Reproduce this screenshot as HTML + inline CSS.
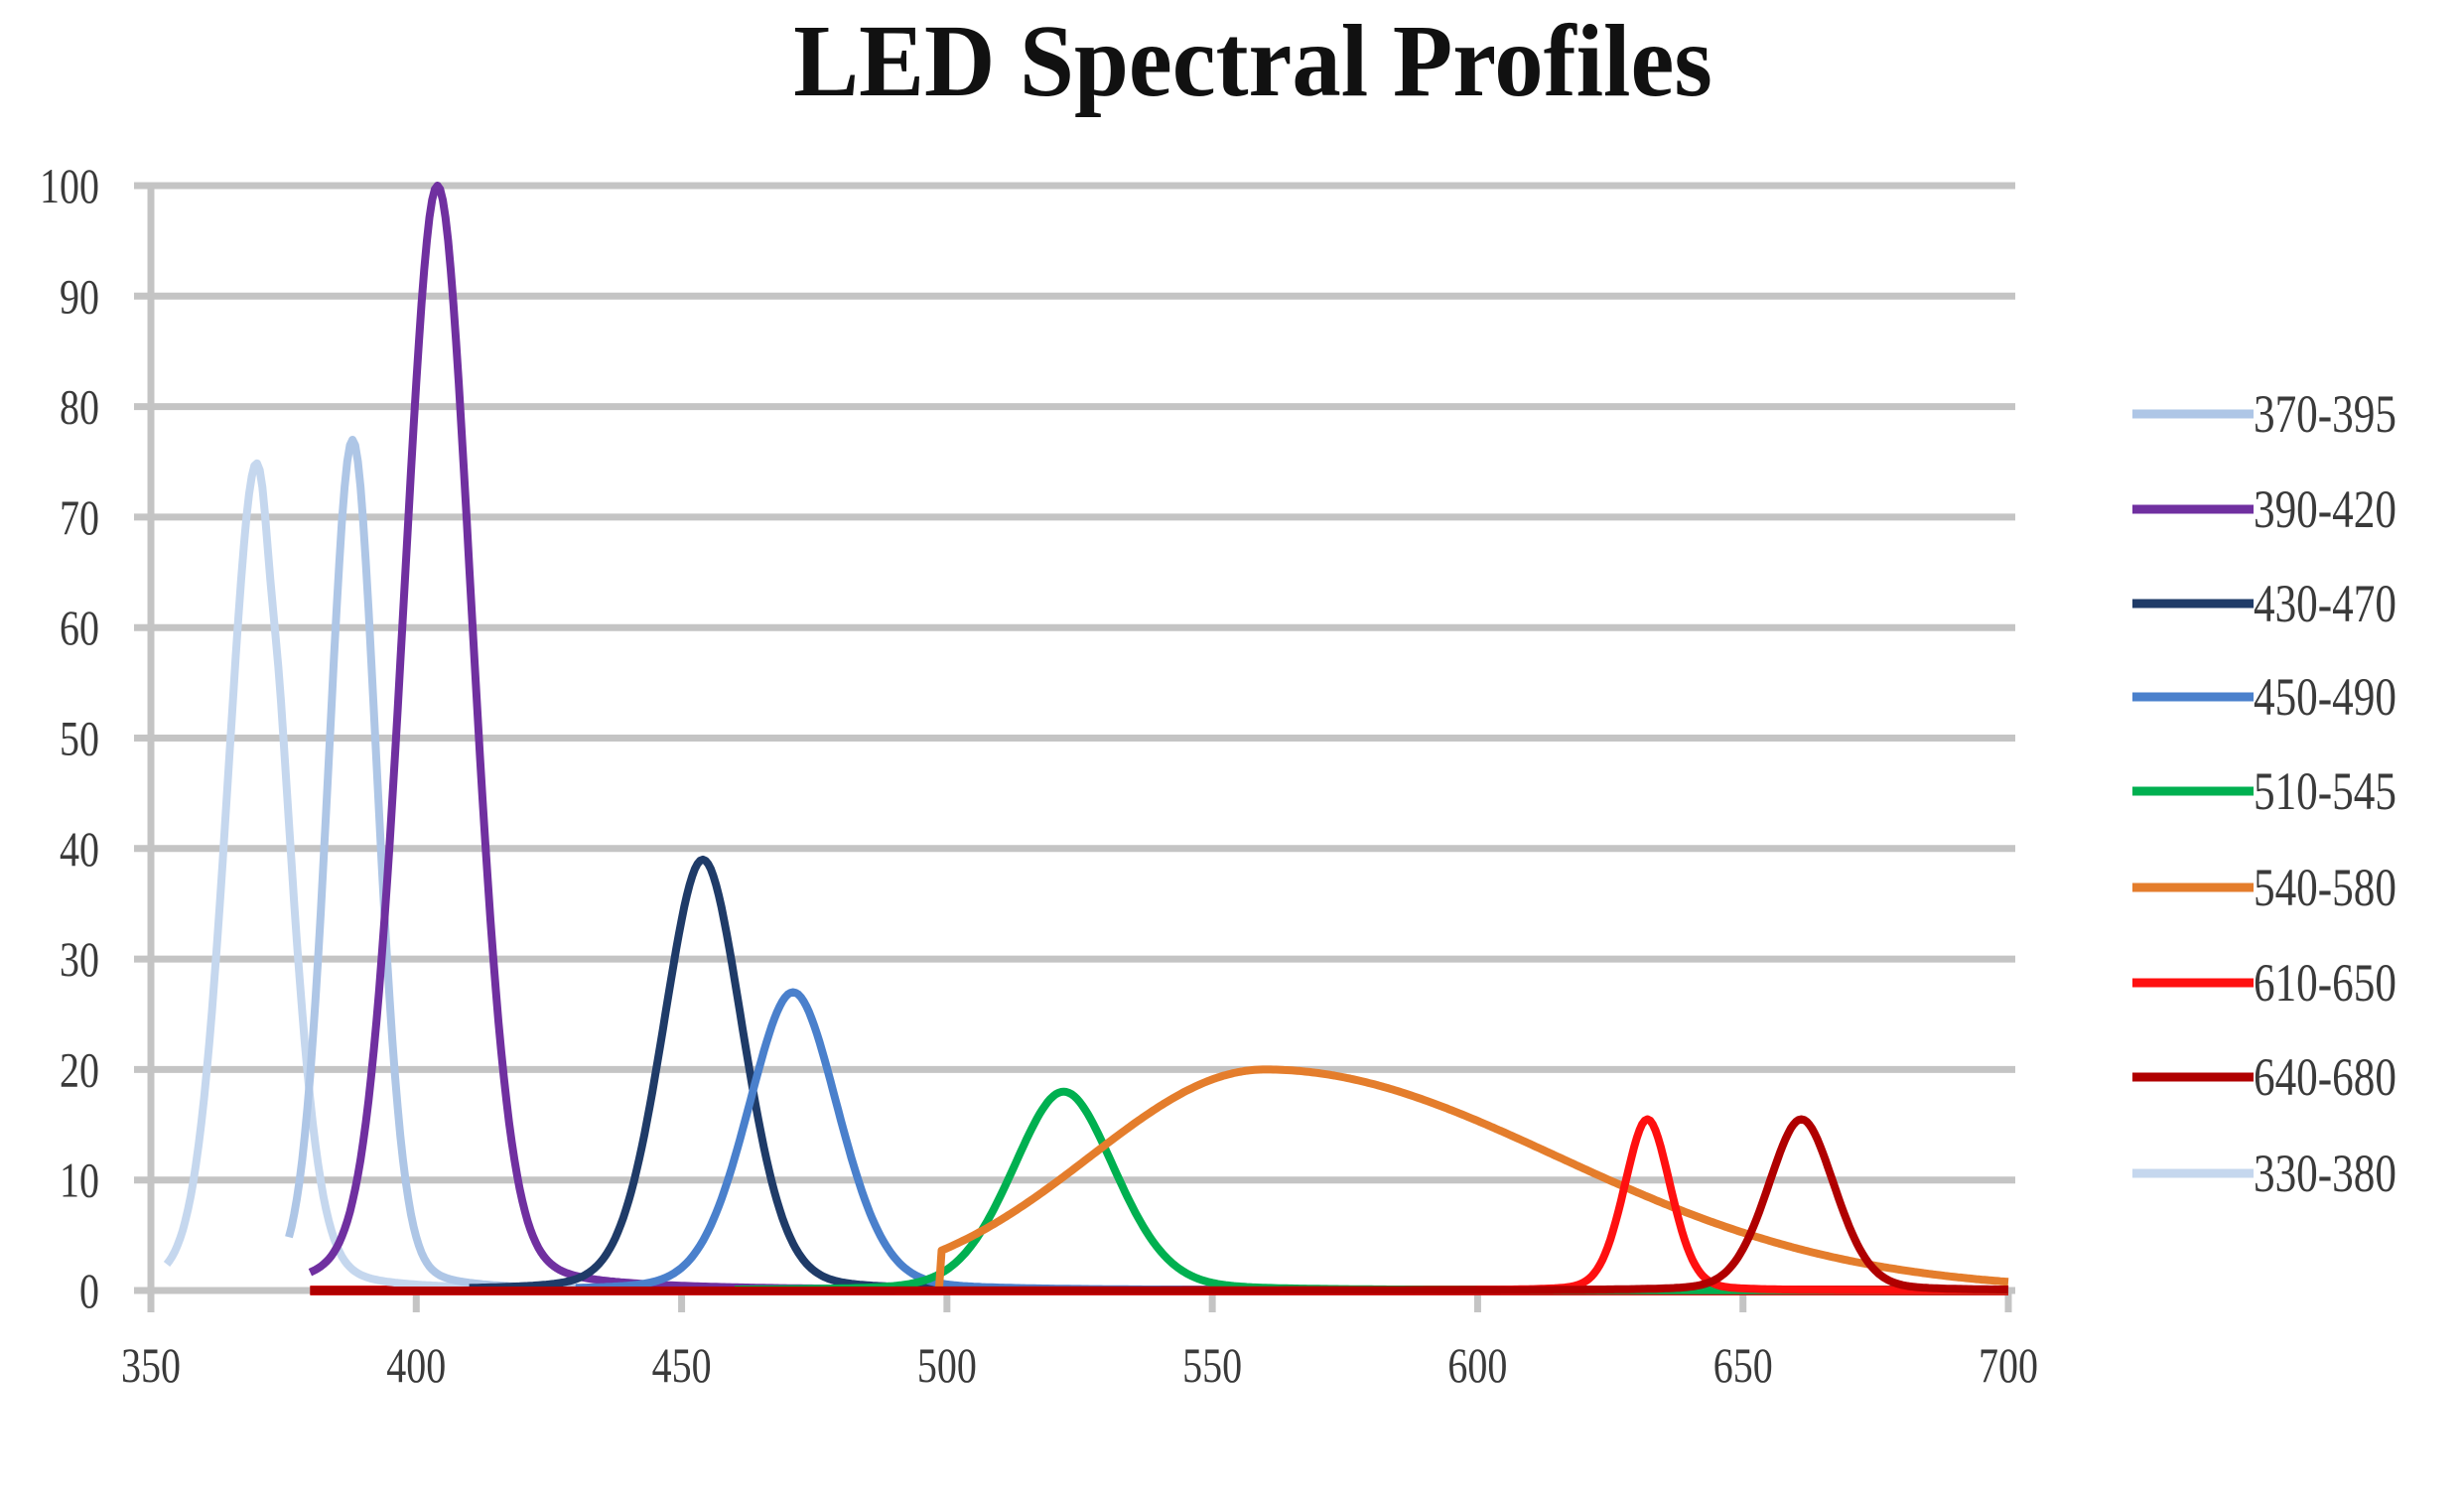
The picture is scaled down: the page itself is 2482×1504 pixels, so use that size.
<!DOCTYPE html>
<html><head><meta charset="utf-8"><style>
html,body{margin:0;padding:0;background:#fff;}
svg{display:block}
text{font-family:"Liberation Serif",serif;fill:#3a3a3a;}
</style></head><body>
<svg id="s" width="2482" height="1504" viewBox="0 0 2482 1504" xmlns="http://www.w3.org/2000/svg">
<rect width="2482" height="1504" fill="#fff"/>
<text transform="translate(1262,96) scale(0.95,1)" text-anchor="middle" font-size="104" font-weight="bold" style="fill:#111">LED Spectral Profiles</text>
<g id="grid" stroke="#c4c4c4" stroke-width="7"></g>
<g id="lab" font-size="50"></g>
<g id="ser" fill="none" stroke-width="8" stroke-linejoin="round"></g>
<g id="leg" font-size="54"></g>
</svg>
<script>
var X=function(n){return 152+(n-350)*(2023-152)/350;};
var Y=function(v){return 1300-v*(1300-187)/100;};
var NS="http://www.w3.org/2000/svg";
function el(p,t,a,txt){var e=document.createElementNS(NS,t);for(var k in a)e.setAttribute(k,a[k]);if(txt!=null)e.textContent=txt;document.getElementById(p).appendChild(e);return e;}
function tx(p,x,y,anchor,s){el(p,'text',{transform:'translate('+x+','+y+') scale(0.8,1)','text-anchor':anchor},s);}
for(var v=0;v<=100;v+=10){var y=Y(v);el('grid','line',{x1:135,x2:2030,y1:y,y2:y});
tx('lab',100,y+17,'end',String(v));}
el('grid','line',{x1:152,x2:152,y1:187,y2:1322});
for(var n=350;n<=700;n+=50){el('grid','line',{x1:X(n),x2:X(n),y1:1300,y2:1322});
tx('lab',X(n),1392,'middle',String(n));}
function g(x,p,s){return Math.exp(-(x-p)*(x-p)/(2*s*s));}
function pk(x,p,A,s){var d=(x-p)/s;return A*(0.8*Math.exp(-d*d/2)+0.2/(1+d*d));}
var S=[
['#c5d7ee',353,420,function(x){return pk(x,370,75,5.8)-3*g(x,372.5,1);}],
['#aec6e6',376,460,function(x){return pk(x,388,77,4.8);}],
['#7030a0',380,480,function(x){return pk(x,404,100,6.8);}],
['#1f3b68',410,520,function(x){return pk(x,454,39,7.8);}],
['#4a80cc',430,560,function(x){return pk(x,471,27,8.8);}],
['#00b050',460,700,function(x){return pk(x,522,18,10);}],
['#e47d2c',498,700,function(x){if(x<499)return 0;var s=x<560?33:55;return 20*g(x,560,s);}],
['#ff1010',380,700,function(x){return pk(x,632,15.5,4.5);}],
['#b00000',380,700,function(x){return pk(x,661,15.5,6.5);}]
];
el('ser','line',{x1:X(380),x2:X(700),y1:Y(0),y2:Y(0),stroke:'#d01818','stroke-width':10});
S.forEach(function(s){var d='';for(var x=s[1];x<=s[2];x+=0.5){d+=(d?'L':'M')+X(x).toFixed(1)+','+Y(Math.max(0,s[3](x))).toFixed(1);}
el('ser','path',{d:d,stroke:s[0]});});
var L=[['370-395','#aec6e6'],['390-420','#7030a0'],['430-470','#1f3b68'],['450-490','#4a80cc'],['510-545','#00b050'],['540-580','#e47d2c'],['610-650','#ff1010'],['640-680','#b00000'],['330-380','#c5d7ee']];
var ly=[417,513,608,702,797,894,990,1085,1182];
L.forEach(function(l,i){el('leg','line',{x1:2148,x2:2270,y1:ly[i],y2:ly[i],stroke:l[1],'stroke-width':9});
tx('leg',2270,ly[i]+18,'start',l[0]);});
</script>
</body></html>
